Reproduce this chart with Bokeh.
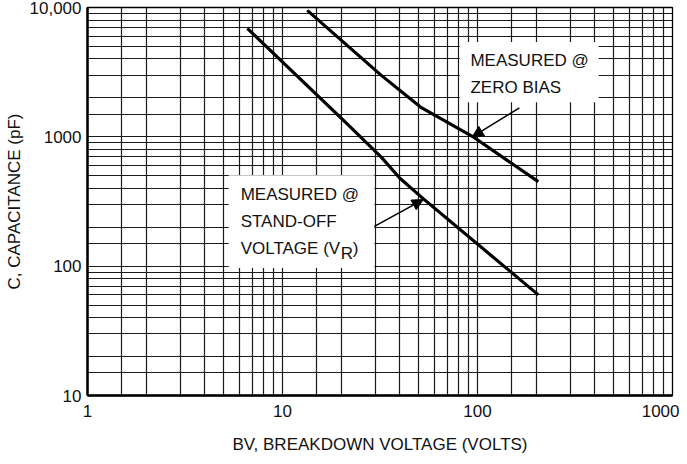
from bokeh.plotting import figure
from bokeh.models import FixedTicker, Range1d, Arrow, NormalHead
from bokeh.core.properties import value
from bokeh.embed import file_html
from bokeh.resources import INLINE

# ---- data ----
zero_bias_v = [13.4, 32, 51, 94, 205]
zero_bias_c = [9500, 3000, 1700, 1010, 450]

standoff_v = [6.6, 21, 32, 40, 53, 205]
standoff_c = [6900, 1300, 700, 478, 330, 60]

x_ticks = [1, 10, 100, 1000]
x_tick_labels = ["1", "10", "100", "1000"]
y_ticks = [10, 100, 1000, 10000]
y_tick_labels = ["10", "100", "1000", "10,000"]
grid_steps = [1, 1.5, 2, 3, 4, 5, 6, 7, 8, 9]

# annotation boxes (data units)
box_left = [81, 5.3]
box_right = [418, 29.6]
box_top = [5400, 505]
box_bottom = [1850, 97]

note_x = [92, 92, 6.1, 6.1, 6.1]
note_y = [3900, 2420, 357, 222, 138]
note_text = ["MEASURED @", "ZERO BIAS", "MEASURED @", "STAND-OFF", "VOLTAGE (V"]

arrow_start_x = [164, 29.6]
arrow_start_y = [1675, 203]
arrow_end_x = [94, 52.7]
arrow_end_y = [1000, 327]

FONT = "Liberation Sans"

x_grid = [s * 10 ** k for k in range(3) for s in grid_steps] + [1000]
y_grid = [s * 10 ** k for k in range(1, 4) for s in grid_steps] + [10000]

p = figure(width=679, height=456,
           x_axis_type="log", y_axis_type="log",
           x_range=Range1d(1, 1000), y_range=Range1d(10, 10000),
           output_backend="svg", toolbar_location=None,
           min_border_left=87, min_border_right=7,
           min_border_top=7, min_border_bottom=61,
           background_fill_color="white", border_fill_color="white")

p.outline_line_color = "black"
p.outline_line_width = 1.3

for g, t in ((p.xgrid, x_grid), (p.ygrid, y_grid)):
    g.ticker = FixedTicker(ticks=t)
    g.grid_line_color = "#1a1a1a"
    g.grid_line_width = 1.2
    g.minor_grid_line_color = None

p.xaxis.ticker = FixedTicker(ticks=x_ticks)
p.yaxis.ticker = FixedTicker(ticks=y_ticks)
p.xaxis.major_label_overrides = {float(v): l for v, l in zip(x_ticks, x_tick_labels)}
p.yaxis.major_label_overrides = {float(v): l for v, l in zip(y_ticks, y_tick_labels)}

for ax in (p.xaxis[0], p.yaxis[0]):
    ax.axis_line_color = "black"
    ax.axis_line_width = 2.5
    ax.major_tick_in = 0
    ax.major_tick_out = 0
    ax.minor_tick_in = 0
    ax.minor_tick_out = 0
    ax.major_label_text_font = FONT
    ax.major_label_text_font_size = "17px"
    ax.major_label_text_color = "#111111"
    ax.axis_label_text_font = FONT
    ax.axis_label_text_font_size = "17px"
    ax.axis_label_text_font_style = "normal"
    ax.axis_label_text_color = "#111111"

p.xaxis.axis_label = "BV, BREAKDOWN VOLTAGE (VOLTS)"
p.yaxis.axis_label = "C, CAPACITANCE (pF)"
p.xaxis.major_label_standoff = 9
p.xaxis.axis_label_standoff = 15
p.yaxis.major_label_standoff = 6
p.yaxis.axis_label_standoff = 3

# white label boxes
p.quad(left=box_left, right=box_right, top=box_top, bottom=box_bottom,
       fill_color="white", line_color=None)

# curves
p.line(zero_bias_v, zero_bias_c, line_width=3.2, line_color="black", line_join="round")
p.line(standoff_v, standoff_c, line_width=3.2, line_color="black", line_join="round")

# notes
p.text(x=note_x, y=note_y, text=note_text, text_font=value(FONT),
       text_font_size="17px", text_baseline="middle", text_align="left",
       text_color="#111111")
p.text(x=[note_x[-1]], y=[note_y[-1]], text=["R"], x_offset=100, y_offset=5,
       text_font=value(FONT), text_font_size="17px", text_baseline="middle",
       text_align="left", text_color="#111111")
p.text(x=[note_x[-1]], y=[note_y[-1]], text=[")"], x_offset=112,
       text_font=value(FONT), text_font_size="17px", text_baseline="middle",
       text_align="left", text_color="#111111")

for xs, ys, xe, ye in zip(arrow_start_x, arrow_start_y, arrow_end_x, arrow_end_y):
    p.add_layout(Arrow(end=NormalHead(size=11, fill_color="black", line_color="black"),
                       x_start=xs, y_start=ys, x_end=xe, y_end=ye,
                       line_width=1.6, line_color="black"))

open("out.html", "w").write(file_html(p, INLINE))
